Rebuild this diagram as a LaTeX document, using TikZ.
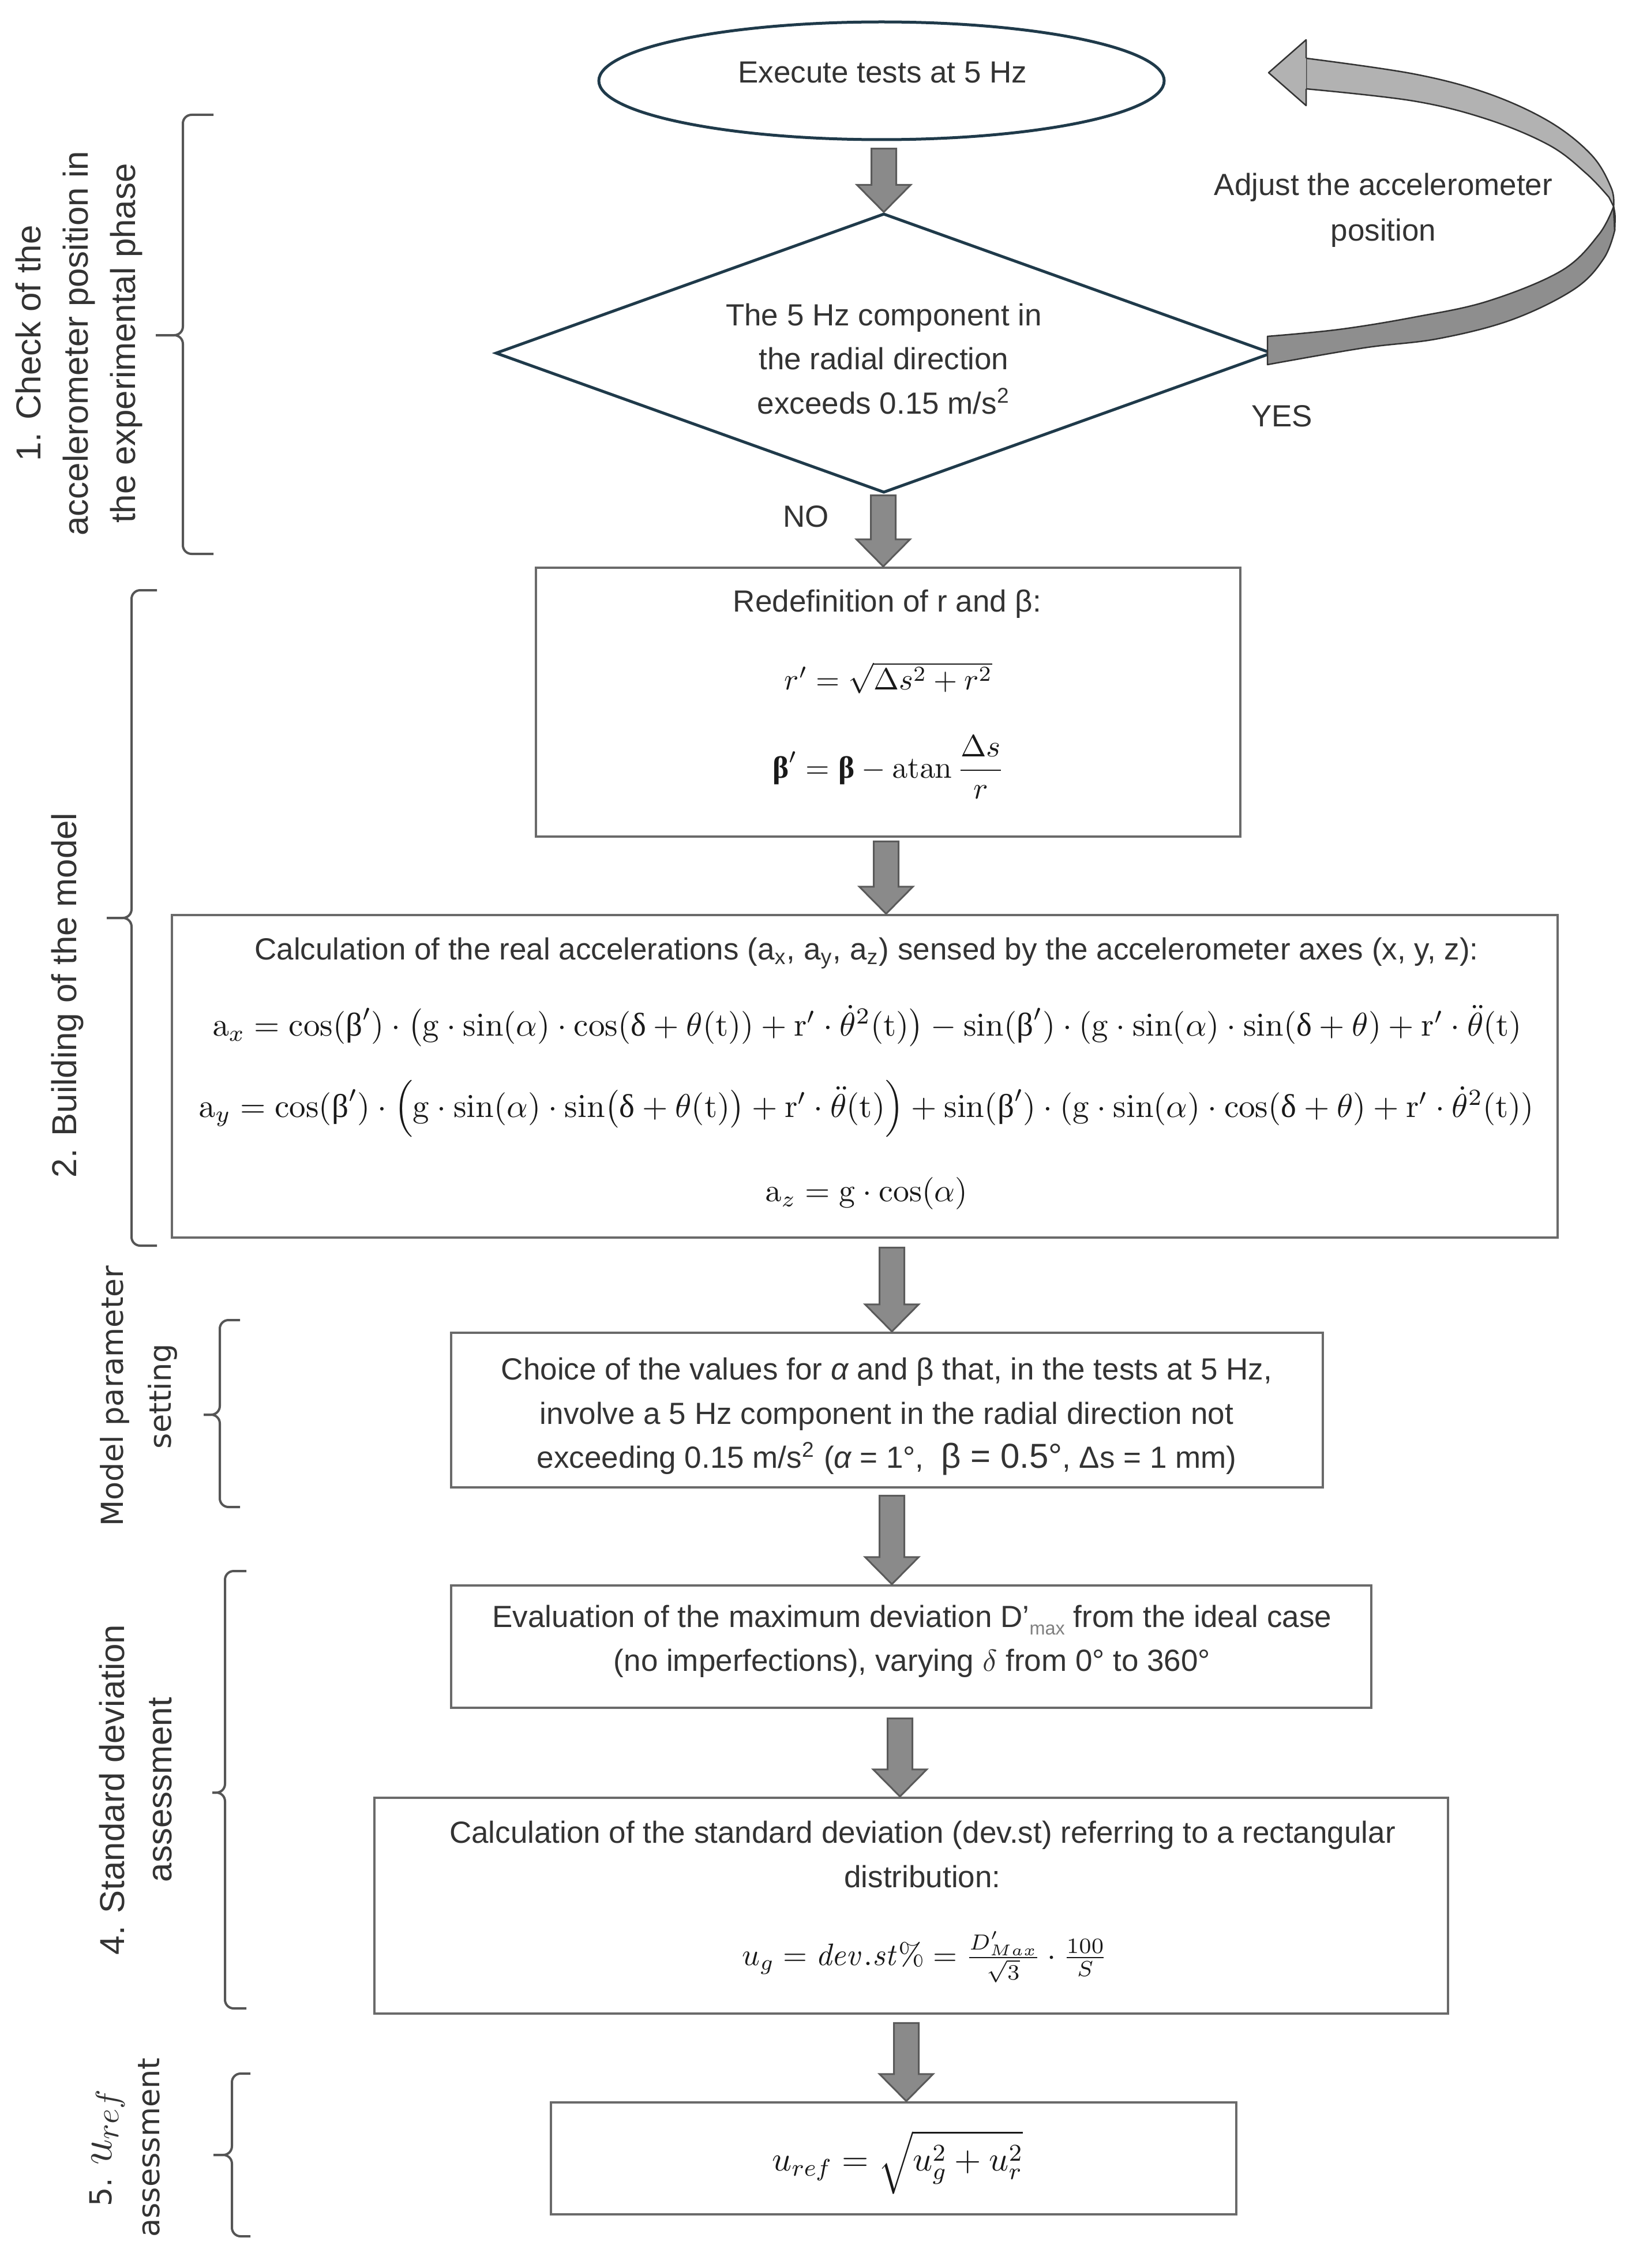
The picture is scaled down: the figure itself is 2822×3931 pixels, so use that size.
\RequirePackage{fix-cm}
\documentclass[tikz,border=0pt]{standalone}
\usepackage{amsmath}
\usepackage[no-math]{fontspec}
\usepackage{graphicx}
\setmainfont{Liberation Sans}
\newfontfamily\dejavu{DejaVu Sans}
\newfontfamily\grkserif{Liberation Serif}
\usetikzlibrary{shapes.geometric,calc}
\definecolor{txt}{HTML}{333333}
\definecolor{navy}{HTML}{1F3A4A}
\definecolor{boxline}{HTML}{6A6A6A}
\definecolor{arrfill}{HTML}{8A8A8A}
\definecolor{arrline}{HTML}{5A5A5A}
\definecolor{ribbonlight}{HTML}{B2B2B2}
\definecolor{ribbondark}{HTML}{8E8E8E}
\definecolor{bracecol}{HTML}{555555}
\newcommand{\upb}{\text{\grkserif β}}
\newcommand{\upbb}{\text{\grkserif\bfseries β}}
\newcommand{\upd}{\text{\grkserif δ}}
% set a formula at the font size that gives it the width #1 (pt)
\newlength\fitwd
\newcommand{\fitmath}[2]{%
  \settowidth{\fitwd}{\fontsize{10}{12}\selectfont$#2$}%
  \pgfmathsetmacro\fitfs{10*#1/\fitwd}%
  \fontsize{\fitfs}{\fitfs}\selectfont$#2$}
% block arrow from source anchor #1 to target anchor #2 at x=#3 (px), start gap #4 (px)
\newcommand{\blockarrow}[4]{%
  \filldraw[blockarr] let \p1=(#1), \p2=(#2) in
  ({#3*0.2pt-4.3pt},{\y1-#4*0.2pt}) -- ({#3*0.2pt+4.3pt},{\y1-#4*0.2pt}) --
  ({#3*0.2pt+4.3pt},{\y2+9.4pt}) -- ({#3*0.2pt+9.3pt},{\y2+9.4pt}) --
  ({#3*0.2pt},{\y2}) -- ({#3*0.2pt-9.3pt},{\y2+9.4pt}) --
  ({#3*0.2pt-4.3pt},{\y2+9.4pt}) -- cycle;}
% brace: ends x, spine x, tip x, top y, mid y, bottom y
\newcommand{\leftbrace}[6]{%
  \draw[bracestyle] (#1,#4) -- (#2,#4) -- (#2,#5) -- (#3,#5);
  \draw[bracestyle] (#3,#5) -- (#2,#5) -- (#2,#6) -- (#1,#6);}
\tikzset{
  boxtext/.style={font=\fontsize{10.6}{15.3}\selectfont, align=center, inner sep=0pt, text=txt},
  procbox/.style={draw=boxline, line width=0.9pt, fill=white, inner sep=0pt},
  sidelabel/.style={font=\fontsize{12}{16.4}\selectfont, align=center, rotate=90, inner sep=0pt, text=txt},
  widelabel/.style={font=\dejavu\fontsize{10.5}{16.6}\selectfont, align=center, rotate=90, inner sep=0pt, text=txt},
  mathtext/.style={inner sep=0pt, text=black!90},
  blockarr/.style={fill=arrfill, draw=arrline, line width=0.6pt, line join=miter},
  bracestyle/.style={draw=bracecol, line width=0.8pt, rounded corners=3pt},
  ribbon/.style={draw=black!80, line width=0.5pt, line join=round},
}
\begin{document}
\begin{tikzpicture}[x=0.2pt,y=-0.2pt]
\useasboundingbox (0,0) rectangle (2822,3931);
\fill[white] (0,0) rectangle (2822,3931);

% ---------- shapes ----------
\node[ellipse, draw=navy, line width=1pt, minimum width=196pt, minimum height=40.8pt, inner sep=0pt] (e) at (1528,140) {};
\node[diamond, draw=navy, line width=1pt, minimum width=269.2pt, minimum height=96.8pt, shape aspect=2.78, inner sep=0pt] (d) at (1532,612) {};
\node[procbox, minimum width=244.2pt, minimum height=93.2pt] (b1) at (1539.5,1217) {};
\node[procbox, minimum width=480.4pt, minimum height=111.8pt] (b2) at (1499,1865.5) {};
\node[procbox, minimum width=302.2pt, minimum height=53.6pt] (b3) at (1537.5,2444) {};
\node[procbox, minimum width=319pt, minimum height=42.4pt] (b4) at (1579.5,2854) {};
\node[procbox, minimum width=372.2pt, minimum height=74.8pt] (b5) at (1579.5,3303) {};
\node[procbox, minimum width=237.6pt, minimum height=38.8pt] (b6) at (1549,3741) {};

% ---------- texts ----------
\node[boxtext] (et) at (1530,126) {Execute tests at 5 Hz};
\node[boxtext] (dt) at (1532,622) {The 5 Hz component in\\the radial direction\\exceeds 0.15 m/s\textsuperscript{2}};
\node[boxtext, font=\fontsize{10.6}{15.8}\selectfont] (adj) at (2398,364) {Adjust the accelerometer\\position};
\node[boxtext] (yes) at (2222,721) {YES};
\node[boxtext] (no) at (1397,895) {NO};

\node[boxtext] (b1t) at (1538,1047) {Redefinition of r and β:};
\node[mathtext] (b1f1) at (1540,1175) {\fitmath{72.2}{r' = \sqrt{\Delta s^2 + r^2}}};
\node[mathtext] (b1f2) at (1540,1330) {\fitmath{80.6}{\displaystyle \upbb' = \upbb - \mathrm{atan}\,\frac{\Delta s}{r}}};

\node[boxtext] (b2t) at (1502,1652) {Calculation of the real accelerations (a\textsubscript{x}, a\textsubscript{y}, a\textsubscript{z}) sensed by the accelerometer axes (x, y, z):};
\node[mathtext] (ax) at (1503,1779) {\fitmath{454.8}{\mathrm{a}_x = \cos(\upb')\cdot\bigl(\mathrm{g}\cdot\sin(\alpha)\cdot\cos(\upd+\theta(\mathrm{t}))+\mathrm{r}'\cdot\dot{\theta}^2(\mathrm{t})\bigr)-\sin(\upb')\cdot(\mathrm{g}\cdot\sin(\alpha)\cdot\sin(\upd+\theta)+\mathrm{r}'\cdot\ddot{\theta}(\mathrm{t})}};
\node[mathtext] (ay) at (1502,1922) {\fitmath{464.2}{\mathrm{a}_y = \cos(\upb')\cdot\Bigl(\mathrm{g}\cdot\sin(\alpha)\cdot\sin\bigl(\upd+\theta(\mathrm{t})\bigr)+\mathrm{r}'\cdot\ddot{\theta}(\mathrm{t})\Bigr)+\sin(\upb')\cdot(\mathrm{g}\cdot\sin(\alpha)\cdot\cos(\upd+\theta)+\mathrm{r}'\cdot\dot{\theta}^2(\mathrm{t}))}};
\node[mathtext] (az) at (1502,2069) {\fitmath{70.2}{\mathrm{a}_z = \mathrm{g}\cdot\cos(\alpha)}};

\node[boxtext] (b3t) at (1537,2455) {Choice of the values for {\itshape α} and β that, in the tests at 5 Hz,\\involve a 5 Hz component in the radial direction not\\exceeding 0.15 m/s\textsuperscript{2} ({\itshape α} = 1°,\ \ {\fontsize{12}{15.3}\selectfont β = 0.5°}, Δs = 1 mm)};

\node[boxtext] (b4t) at (1581,2845) {Evaluation of the maximum deviation D’\raisebox{-0.45ex}{\fontsize{6.5}{7}\selectfont\color{gray}max} from the ideal case\\(no imperfections), varying $\delta$ from 0° to 360°};

\node[boxtext] (b5t) at (1599,3214) {Calculation of the standard deviation (dev.st) referring to a rectangular\\distribution:};
\node[mathtext] (b5f) at (1603,3392) {\fitmath{127}{u_g = \mathit{dev.st}\% = \frac{D'_{Max}}{\sqrt{3}}\cdot\frac{100}{S}}};

\node[mathtext] (b6f) at (1556,3748) {\fitmath{89.2}{u_{ref} = \sqrt{u_g^2 + u_r^2}}};

% ---------- side labels ----------
\node[sidelabel] (l1) at (137,595) {1. Check of the\\accelerometer position in\\the experimental phase};
\node[sidelabel] (l2) at (117,1725) {2. Building of the model};
\node[widelabel] (l3) at (241,2420) {Model parameter\\setting};
\node[sidelabel] (l4) at (235,3102) {4. Standard deviation\\assessment};
\node[widelabel] (l5) at (216,3722) {5. {\fontsize{16}{16.6}\selectfont$u_{ref}$}\\assessment};

% ---------- braces ----------
\leftbrace{370}{317}{270}{199}{581}{960}
\leftbrace{272}{228}{185}{1023}{1591}{2159}
\leftbrace{416}{381}{353}{2288}{2452}{2612}
\leftbrace{427}{390}{368}{2723}{3107}{3481}
\leftbrace{434}{402}{370}{3594}{3735}{3876}

% ---------- block arrows ----------
\blockarrow{e.south}{d.north}{1532}{13}
\blockarrow{d.south}{b1.north}{1531}{2}
\blockarrow{b1.south}{b2.north}{1536}{6}
\blockarrow{b2.south}{b3.north}{1546}{15}
\blockarrow{b3.south}{b4.north}{1546}{12}
\blockarrow{b4.south}{b5.north}{1560}{16}
\blockarrow{b5.south}{b6.north}{1571}{14}

% ---------- curved feedback arrow (YES) ----------
\filldraw[ribbon, fill=ribbondark]
  plot[smooth, tension=0.6] coordinates {(2197,583) (2321,571) (2450,550) (2579,522) (2707,469) (2771,407) (2797,358)}
  -- plot[smooth, tension=0.6] coordinates {(2799,399) (2780,448) (2729,501) (2621,554) (2493,587) (2364,603) (2197,632)}
  -- cycle;
\filldraw[ribbon, fill=ribbondark] (2797,358) .. controls (2800,372) .. (2799,399) -- (2797,358);
\filldraw[ribbon, fill=ribbonlight]
  plot[smooth, tension=0.6] coordinates {(2264,101) (2450,128) (2579,162) (2686,211) (2759,269) (2793,326) (2797,358)}
  -- plot[smooth, tension=0.6] coordinates {(2789,342) (2750,301) (2686,252) (2579,207) (2450,175) (2264,154)}
  -- cycle;
\filldraw[ribbon, fill=ribbonlight] (2264,154) -- (2264,183) -- (2199,126) -- (2264,69) -- (2264,101);
\end{tikzpicture}
\end{document}
